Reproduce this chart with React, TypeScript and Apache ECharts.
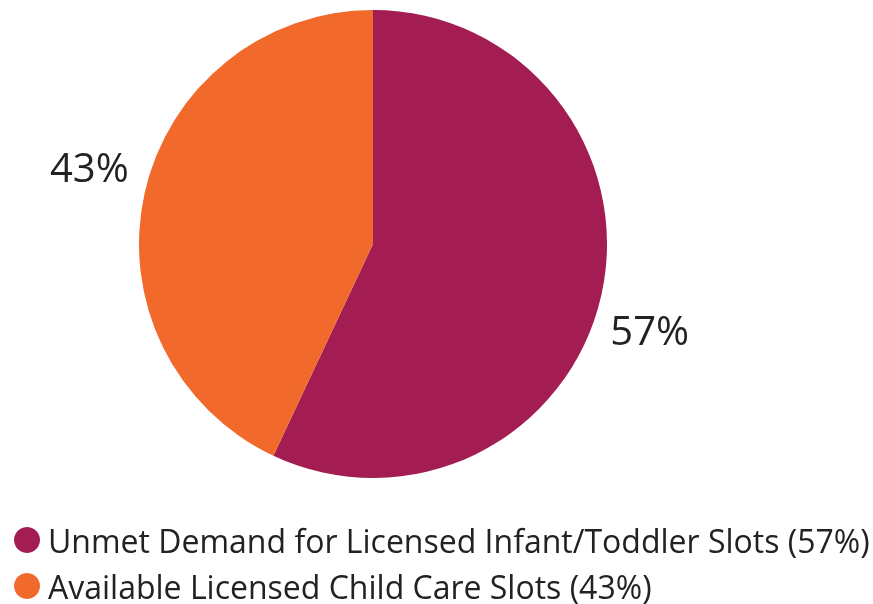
import React, { useEffect, useRef } from "react";
import * as echarts from "echarts";

const categories = [
  "Unmet Demand for Licensed Infant/Toddler Slots (57%)",
  "Available Licensed Child Care Slots (43%)",
];
const values = [57, 43];
const labels = ["57%", "43%"];
const colors = ["#A31C52", "#F26A2B"];

export default function App() {
  const ref = useRef<HTMLDivElement>(null);
  useEffect(() => {
    const chart = echarts.init(ref.current!, null, { renderer: "svg" });
    chart.setOption({
      animation: false,
      color: colors,
      legend: {
        orient: "vertical",
        left: 14,
        top: 524,
        padding: 0,
        icon: "circle",
        itemWidth: 26,
        itemHeight: 26,
        itemGap: 14,
        textStyle: {
          fontFamily: "Open Sans",
          fontSize: 32,
          lineHeight: 32,
          color: "#222",
          padding: [0, 0, 0, 3],
        },
        data: categories,
      },
      series: [
        {
          type: "pie",
          center: [373, 244],
          radius: 234,
          startAngle: 90,
          clockwise: true,
          label: {
            show: true,
            position: "outside",
            fontFamily: "Open Sans",
            fontSize: 40,
            color: "#222",
            formatter: (p: any) => labels[p.dataIndex],
          },
          labelLine: { show: false, length: 4, length2: 0 },
          labelLayout: (p: any) =>
            p.dataIndex === 0 ? { dy: 34 } : { dy: -26, dx: -7 },
          data: categories.map((c, i) => ({ name: c, value: values[i] })),
        },
      ],
    });
    return () => chart.dispose();
  }, []);
  return (
    <div
      ref={ref}
      style={{ position: "fixed", left: 0, top: 0, width: 873, height: 604 }}
    />
  );
}
